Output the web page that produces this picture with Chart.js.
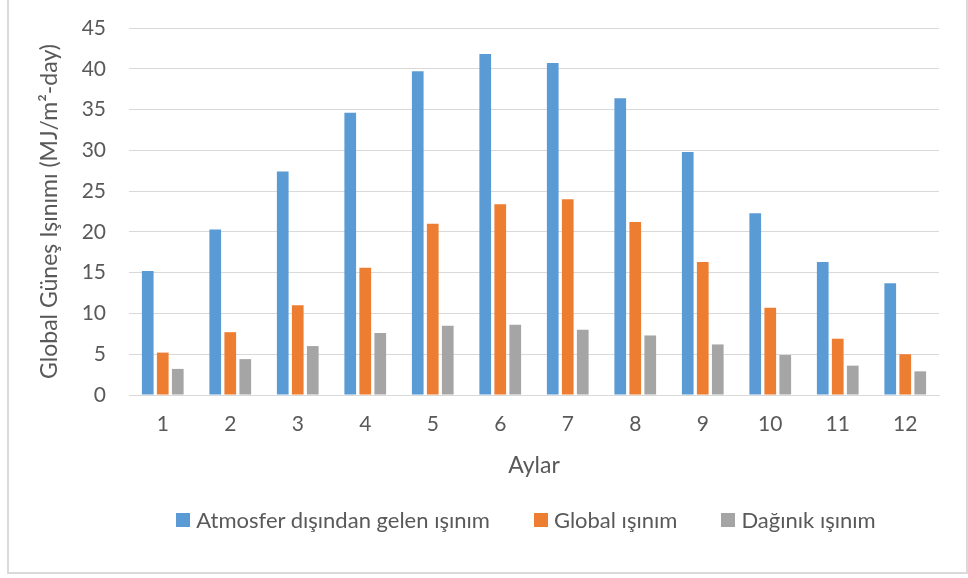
<!doctype html>
<html lang="tr">
<head>
<meta charset="utf-8">
<title>Global Güneş Işınımı</title>
<script src="https://cdn.jsdelivr.net/npm/chart.js@4.4.1/dist/chart.umd.min.js"></script>
<style>
 body{margin:0;background:#fff;font-family:Lato,sans-serif}
 #wrap{position:relative;width:968px;height:578px;overflow:hidden}
 #frame{position:absolute;left:7px;top:-2px;width:961px;height:576px;box-sizing:border-box;border:2px solid #dadada}
 #chart{position:absolute;left:0;top:0}
 #legend{position:absolute;left:0;width:1052px;top:507px;height:26px;display:flex;justify-content:center;
         font-size:22px;line-height:26px;color:#595959;white-space:nowrap}
 #legend .item{display:flex;align-items:center;margin:0 22px}
 #legend .box{width:14px;height:14px;margin-right:6px}
</style>
</head>
<body>
<div id="wrap">
 <div id="frame"></div>
 <canvas id="chart" width="968" height="578"></canvas>
 <div id="legend"></div>
</div>

<script>
/* ===== Daten ======================================================= */
const AYLAR    = ['1','2','3','4','5','6','7','8','9','10','11','12'];
const ATMOSFER = [15.2, 20.3, 27.4, 34.6, 39.7, 41.8, 40.7, 36.4, 29.8, 22.3, 16.3, 13.7];
const GLOBAL   = [5.2, 7.7, 11.0, 15.6, 21.0, 23.4, 24.0, 21.2, 16.3, 10.7, 6.9, 5.0];
const DAGINIK  = [3.2, 4.4, 6.0, 7.6, 8.5, 8.6, 8.0, 7.3, 6.2, 4.9, 3.6, 2.9];
const SERI_ADLARI = ['Atmosfer dışından gelen ışınım', 'Global ışınım', 'Dağınık ışınım'];
const RENKLER     = ['#5B9BD5', '#ED7D31', '#A5A5A5'];
const Y_TICKS     = [0, 5, 10, 15, 20, 25, 30, 35, 40, 45];

const TEXT = '#595959', GRID = '#d9d9d9';
const FONT = 'Lato';

const datasets = [ATMOSFER, GLOBAL, DAGINIK].map((d,i)=>({
  label: SERI_ADLARI[i],
  data: d,
  backgroundColor: RENKLER[i],
  borderWidth: 0,
  categoryPercentage: 0.667,
  barPercentage: 0.78
}));

new Chart(document.getElementById('chart'), {
  type: 'bar',
  data: {labels: AYLAR, datasets},
  options: {
    responsive: false,
    animation: false,
    layout: {padding: {left: 36, right: 29, top: 28, bottom: 95}},
    plugins: {legend: {display: false}, tooltip: {enabled: false}},
    scales: {
      x: {
        grid: {display: false, drawTicks: false},
        border: {color: GRID, width: 1},
        ticks: {color: TEXT, font: {family: FONT, size: 21}, padding: 17},
        title: {display: true, text: 'Aylar', color: TEXT,
                font: {family: FONT, size: 23}, padding: {top: 0, bottom: 4}},
        afterFit: s => { s.height = 88; }
      },
      y: {
        min: 0, max: 45,
        afterBuildTicks: s => { s.ticks = Y_TICKS.map(v=>({value: v})); },
        grid: {color: GRID, lineWidth: 1, drawTicks: false},
        border: {display: false},
        ticks: {color: TEXT, font: {family: FONT, size: 21}, padding: 23},
        title: {display: true, text: 'Global Güneş Işınımı (MJ/m²-day)', color: TEXT,
                font: {family: FONT, size: 23}, padding: 0},
        // feste Breite, kein Zusatzabstand oben/unten -> Plotfläche 28..395
        afterFit: s => { s.width = 93; s.paddingTop = 0; s.paddingBottom = 0; }
      }
    }
  }
});

/* ===== Legende ===================================================== */
const leg = document.getElementById('legend');
SERI_ADLARI.forEach((name,i)=>{
  const it = document.createElement('div');
  it.className = 'item';
  it.innerHTML = `<span class="box" style="background:${RENKLER[i]}"></span><span>${name}</span>`;
  leg.appendChild(it);
});
</script>
</body>
</html>
